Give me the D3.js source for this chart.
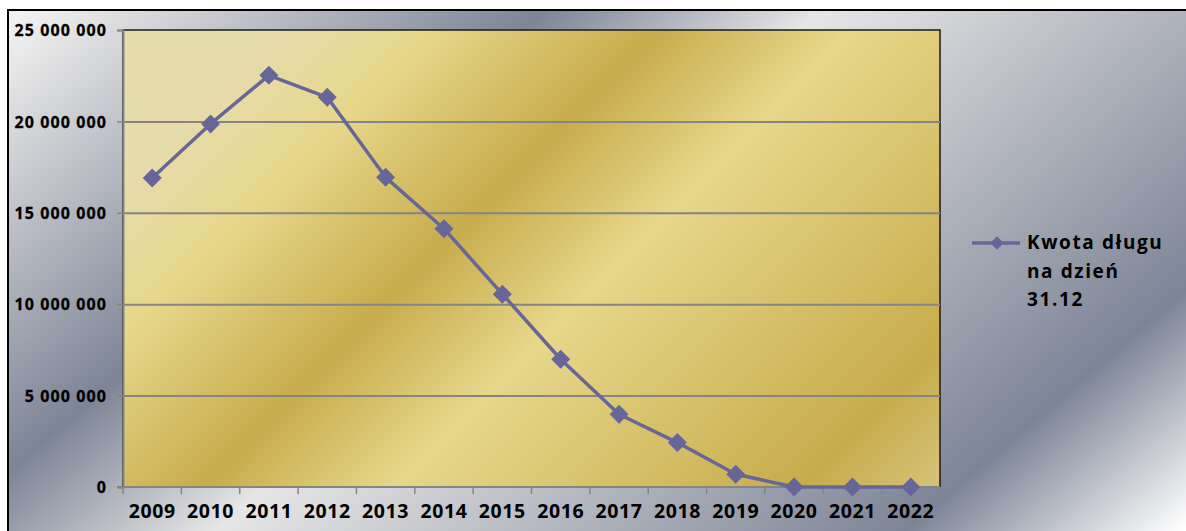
<!DOCTYPE html>
<html>
<head>
<meta charset="utf-8">
<script src="https://cdn.jsdelivr.net/npm/d3@7"></script>
<style>
  html, body { margin: 0; padding: 0; background: #fff; }
  svg text { font-family: "Open Sans", "DejaVu Sans", sans-serif; font-weight: 700; fill: #000; }
</style>
</head>
<body>
<div id="chart"></div>
<script>
// data
let years = ["2009", "2010", "2011", "2012", "2013", "2014", "2015", "2016", "2017", "2018", "2019", "2020", "2021", "2022"];
let debt = [16900000, 19860000, 22520000, 21320000, 16940000, 14130000, 10550000, 6990000, 3980000, 2430000, 700000, 0, 0, 0];
let yTicks = [0, 5000000, 10000000, 15000000, 20000000, 25000000];
let seriesName = ["Kwota długu", "na dzień", "31.12"];

let W = 1186, H = 531;
let margin = { top: 30, right: 246, bottom: 44, left: 123 };
let width = W - margin.left - margin.right;   // 817
let height = H - margin.top - margin.bottom;  // 457

let svg = d3.select("#chart").append("svg")
  .attr("width", W)
  .attr("height", H);

let defs = svg.append("defs");

// silver chart-area fill
let silver = defs.append("linearGradient")
  .attr("id", "silver")
  .attr("gradientUnits", "userSpaceOnUse")
  .attr("x1", -18).attr("y1", -20)
  .attr("x2", 763).attr("y2", 890);
[[0, "#ffffff"], [0.075, "#e6e6e6"], [0.325, "#7d8496"], [0.475, "#e6e6e6"], [0.85, "#7d8496"], [1, "#ffffff"]]
  .forEach((s) => silver.append("stop").attr("offset", s[0]).attr("stop-color", s[1]));

// gold plot-area fill
let gold = defs.append("linearGradient")
  .attr("id", "gold")
  .attr("gradientUnits", "userSpaceOnUse")
  .attr("x1", margin.left).attr("y1", margin.top)
  .attr("x2", margin.left + (width + height) / 2).attr("y2", margin.top + (width + height) / 2);
[[0, "#e6dcac"], [0.12, "#e6d78a"], [0.3, "#c7ac4c"], [0.45, "#e6d78a"], [0.77, "#c7ac4c"], [1, "#e6dcac"]]
  .forEach((s) => gold.append("stop").attr("offset", s[0]).attr("stop-color", s[1]));

// chart area
svg.append("rect")
  .attr("x", 8).attr("y", 10)
  .attr("width", W + 10).attr("height", H + 10)
  .attr("fill", "url(#silver)")
  .attr("stroke", "#000")
  .attr("stroke-width", 2);

let g = svg.append("g")
  .attr("transform", "translate(" + margin.left + "," + margin.top + ")");

let x = d3.scaleBand().domain(years).range([0, width]).padding(0);
let y = d3.scaleLinear().domain([0, 25000000]).range([height, 0]);

// plot area
g.append("rect")
  .attr("width", width)
  .attr("height", height)
  .attr("fill", "url(#gold)")
  .attr("stroke", "#1a1a1a")
  .attr("stroke-width", 1.5);

// gridlines
g.append("g")
  .call(d3.axisLeft(y).tickValues(yTicks.filter((v) => v > 0 && v < 25000000)).tickSize(-width).tickFormat(""))
  .call((s) => s.select(".domain").remove())
  .selectAll("line")
  .attr("stroke", "#858585")
  .attr("stroke-width", 2);

// y axis
let fmt = (v) => d3.format(",")(v).replace(/,/g, " ");
let yAxis = g.append("g")
  .call(d3.axisLeft(y).tickValues(yTicks).tickSize(6).tickPadding(10).tickFormat(fmt));
yAxis.select(".domain").attr("stroke", "#858585").attr("stroke-width", 2);
yAxis.selectAll(".tick line").attr("stroke", "#858585").attr("stroke-width", 1.5);
yAxis.selectAll(".tick text")
  .attr("font-size", 16)
  .attr("letter-spacing", 1.1)
  .attr("stroke", "#000")
  .attr("stroke-width", 0.3)
  .attr("dy", "0.36em");

// x axis: labels centred in each band, ticks on band edges
let xAxis = g.append("g")
  .attr("transform", "translate(0," + height + ")")
  .call(d3.axisBottom(x).tickSize(0).tickPadding(24));
xAxis.select(".domain").remove();
xAxis.selectAll(".tick text")
  .attr("font-size", 19.5)
  .attr("letter-spacing", 0.6)
  .attr("dy", "0.36em");

let edges = years.map((d) => x(d)).concat([width]);
g.append("g")
  .selectAll("line")
  .data(edges)
  .enter()
  .append("line")
  .attr("x1", (d) => d).attr("x2", (d) => d)
  .attr("y1", height).attr("y2", height + 7)
  .attr("stroke", "#858585")
  .attr("stroke-width", 1.5);

g.append("line")
  .attr("x1", -6).attr("x2", width)
  .attr("y1", height).attr("y2", height)
  .attr("stroke", "#858585")
  .attr("stroke-width", 2);

// series
let lineColor = "#666699";
let cx = (i) => x(years[i]) + x.bandwidth() / 2;

g.append("path")
  .datum(debt)
  .attr("fill", "none")
  .attr("stroke", lineColor)
  .attr("stroke-width", 3.5)
  .attr("stroke-linejoin", "round")
  .attr("d", d3.line().x((d, i) => cx(i)).y((d) => y(d)));

let diamond = d3.symbol().type(d3.symbolSquare).size(180);
g.selectAll(".marker")
  .data(debt)
  .enter()
  .append("path")
  .attr("class", "marker")
  .attr("d", diamond)
  .attr("fill", lineColor)
  .attr("transform", (d, i) => "translate(" + cx(i) + "," + y(d) + ") rotate(45)");

// legend
let legend = svg.append("g").attr("transform", "translate(972,243)");
legend.append("line")
  .attr("x1", 0).attr("x2", 48)
  .attr("stroke", lineColor)
  .attr("stroke-width", 3.5);
legend.append("path")
  .attr("d", d3.symbol().type(d3.symbolSquare).size(90))
  .attr("fill", lineColor)
  .attr("transform", "translate(25,0) rotate(45)");
legend.selectAll("text")
  .data(seriesName)
  .enter()
  .append("text")
  .attr("x", 55)
  .attr("y", (d, i) => 6 + i * 28.5)
  .attr("font-size", 19)
  .attr("letter-spacing", 1.6)
  .text((d) => d);
</script>
</body>
</html>
